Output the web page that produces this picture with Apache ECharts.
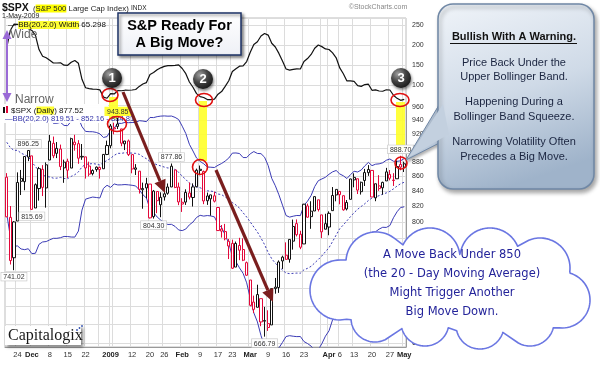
<!DOCTYPE html>
<html><head><meta charset="utf-8">
<script src="https://cdn.jsdelivr.net/npm/echarts@6/dist/echarts.min.js"></script>
<style>html,body{margin:0;padding:0;background:#fff;}#chart{width:600px;height:365px;}</style>
</head><body><div id="chart"></div>
<script>
// ---------------- DATA ----------------
const dates = [
'2008-11-19','2008-11-20','2008-11-21','2008-11-24','2008-11-25','2008-11-26','2008-11-28',
'2008-12-01','2008-12-02','2008-12-03','2008-12-04','2008-12-05','2008-12-08','2008-12-09','2008-12-10','2008-12-11','2008-12-12',
'2008-12-15','2008-12-16','2008-12-17','2008-12-18','2008-12-19','2008-12-22','2008-12-23','2008-12-24','2008-12-26','2008-12-29','2008-12-30','2008-12-31',
'2009-01-02','2009-01-05','2009-01-06','2009-01-07','2009-01-08','2009-01-09','2009-01-12','2009-01-13','2009-01-14','2009-01-15','2009-01-16',
'2009-01-20','2009-01-21','2009-01-22','2009-01-23','2009-01-26','2009-01-27','2009-01-28','2009-01-29','2009-01-30',
'2009-02-02','2009-02-03','2009-02-04','2009-02-05','2009-02-06','2009-02-09','2009-02-10','2009-02-11','2009-02-12','2009-02-13',
'2009-02-17','2009-02-18','2009-02-19','2009-02-20','2009-02-23','2009-02-24','2009-02-25','2009-02-26','2009-02-27',
'2009-03-02','2009-03-03','2009-03-04','2009-03-05','2009-03-06','2009-03-09','2009-03-10','2009-03-11','2009-03-12','2009-03-13',
'2009-03-16','2009-03-17','2009-03-18','2009-03-19','2009-03-20','2009-03-23','2009-03-24','2009-03-25','2009-03-26','2009-03-27','2009-03-30','2009-03-31',
'2009-04-01','2009-04-02','2009-04-03','2009-04-06','2009-04-07','2009-04-08','2009-04-09','2009-04-13','2009-04-14','2009-04-15','2009-04-16','2009-04-17',
'2009-04-20','2009-04-21','2009-04-22','2009-04-23','2009-04-24','2009-04-27','2009-04-28','2009-04-29','2009-04-30','2009-05-01'];

const opens = [859.03,805.87,755.84,801.20,853.40,852.90,886.89,
888.61,817.94,843.60,869.75,844.43,882.71,906.48,892.17,898.35,871.79,881.07,871.53,908.16,905.98,886.96,887.20,874.31,863.87,869.51,872.37,870.58,890.59,
902.99,929.17,931.17,927.45,905.73,909.91,890.40,869.79,867.28,841.99,844.45,849.64,806.77,839.74,822.16,832.50,837.30,845.73,868.89,845.69,
823.09,825.69,837.77,831.75,846.09,868.24,866.87,827.41,829.91,833.95,818.61,791.06,787.91,775.87,773.25,744.69,770.64,765.76,749.93,
729.57,704.44,698.60,708.27,684.04,680.76,679.28,719.59,720.89,751.97,758.84,753.88,776.01,797.92,784.58,772.59,820.60,806.81,814.06,828.68,809.07,790.88,
793.59,814.53,835.13,839.75,834.12,816.76,829.29,855.33,856.88,839.44,854.54,865.18,868.27,831.25,847.26,844.62,853.91,862.82,854.48,856.85,876.59,
872.74];
const highs = [864.57,820.52,801.20,865.60,868.94,887.68,896.25,
888.61,850.54,873.12,875.60,879.42,918.57,916.26,908.27,904.63,883.24,884.63,914.66,918.85,911.02,905.47,887.37,880.44,869.79,873.74,873.70,891.12,910.32,
934.73,936.63,943.85,927.45,910.00,911.93,890.40,877.02,867.28,851.59,858.13,849.64,841.72,839.74,838.61,852.53,850.45,877.86,868.89,851.66,
830.78,842.60,851.85,850.55,870.75,875.01,868.05,838.22,835.48,839.43,818.61,796.17,797.58,778.69,777.85,775.49,780.12,779.42,751.27,
729.57,711.67,724.12,708.27,699.09,695.27,719.60,731.92,752.63,758.29,774.53,778.12,803.04,803.24,788.91,823.37,823.65,826.78,832.98,828.68,809.07,810.48,
813.62,845.61,842.50,839.75,834.12,828.42,856.91,864.31,856.88,852.93,870.35,875.63,868.27,850.09,861.78,852.87,871.80,868.83,864.48,882.06,888.70,
880.48];
const lows = [806.18,747.78,741.02,801.20,834.99,841.37,881.21,
815.69,817.94,827.60,833.60,818.41,882.71,885.38,885.45,868.73,851.35,857.72,871.53,895.94,877.44,883.02,857.09,860.10,861.44,866.52,857.07,870.58,889.67,
899.35,919.53,927.28,902.37,896.81,888.31,864.32,862.02,836.93,817.04,830.66,804.47,804.30,811.29,806.07,827.69,835.40,845.73,844.15,821.67,
812.87,821.98,829.18,819.91,845.42,861.65,822.99,822.03,808.06,825.21,789.17,780.43,777.03,754.25,742.37,744.69,752.89,751.75,734.52,
699.70,692.30,698.60,677.93,666.79,672.88,679.28,713.85,714.76,742.46,753.37,749.93,765.64,781.82,766.20,772.59,805.48,791.37,814.06,813.43,779.81,790.88,
783.32,814.53,826.70,822.79,814.53,814.84,829.29,845.35,836.31,835.58,847.04,860.87,832.39,826.83,840.57,835.45,853.91,854.65,847.12,856.85,868.51,
866.10];
const closes = [806.58,752.44,800.03,851.81,857.39,887.68,896.24,
816.21,848.81,870.74,845.22,876.07,909.70,888.67,899.24,873.59,879.73,868.57,913.18,904.42,885.28,887.88,871.63,863.16,868.15,872.80,869.42,890.64,903.25,
931.80,927.45,934.70,906.65,909.73,890.35,870.26,871.79,842.62,843.74,850.12,805.22,840.24,827.50,831.95,836.57,845.71,874.09,845.14,825.88,
825.44,838.51,832.23,845.85,868.60,869.89,827.16,833.74,835.19,826.84,789.17,788.42,778.94,770.05,743.33,773.14,764.90,752.83,735.09,
700.82,696.33,712.87,682.55,683.38,676.53,719.60,721.36,750.74,756.55,753.89,778.12,794.35,784.04,768.54,822.92,806.12,813.88,832.86,815.94,787.53,797.87,
811.08,834.38,842.50,835.48,815.55,825.16,856.56,858.73,841.50,852.06,865.30,869.60,832.39,850.08,843.55,851.92,866.23,857.51,855.16,873.64,872.81,
877.52];
const priorClose = 859.12;

const bbUpper = [1005.8,1019.3,1023.0,1022.9,1018.1,1014.8,1007.9,
998.5,986.4,962.0,948.3,944.9,940.8,935.8,935.8,937.2,932.6,932.3,939.1,943.7,944.0,930.8,923.8,923.4,923.3,922.3,920.2,914.9,916.2,
925.1,928.7,935.9,935.5,937.2,936.7,936.9,937.0,939.7,939.1,938.2,944.5,944.3,945.7,946.5,946.8,946.4,946.6,944.6,941.4,
931.5,920.7,905.1,895.5,885.5,880.8,877.5,873.0,872.7,872.3,875.4,877.9,881.3,885.5,892.5,892.7,891.9,886.2,886.2,
891.5,894.7,892.0,891.7,886.7,875.1,857.4,847.4,835.3,821.7,808.2,806.2,807.4,808.3,808.1,821.4,826.9,834.4,846.3,854.2,856.6,858.9,
863.0,866.3,868.2,863.4,860.9,857.2,862.5,867.1,866.1,868.9,874.6,879.4,874.9,876.9,877.4,878.9,882.4,884.2,881.0,880.9,881.6,
884.81];
const bbMiddle = [908.0,900.2,896.4,896.5,892.3,890.2,887.3,
879.7,873.8,867.1,861.7,860.2,859.2,857.7,857.7,858.8,857.2,857.0,860.1,862.4,866.3,873.1,876.7,877.2,877.8,877.0,875.7,879.4,882.1,
885.2,889.3,892.2,892.1,893.1,892.7,892.5,892.1,890.8,887.3,884.6,880.6,878.2,876.0,874.5,872.9,871.6,871.8,869.5,865.7,
860.3,855.9,850.8,847.7,845.7,844.7,842.5,840.6,840.2,839.4,836.3,835.5,832.4,829.5,825.1,821.9,817.8,811.8,806.3,
800.0,793.6,787.3,779.8,771.7,762.1,754.6,749.3,745.1,741.2,737.6,737.0,737.3,737.6,737.5,741.5,743.2,745.6,749.6,753.7,758.0,763.1,
768.0,775.6,783.6,791.5,796.3,801.5,806.8,811.9,816.3,820.0,823.5,827.8,831.0,832.3,834.2,836.1,837.8,839.9,843.2,847.0,850.1,
852.16];
const bbLower = [810.2,781.1,769.8,770.1,766.4,765.6,766.7,
760.8,761.2,772.1,775.0,775.5,777.6,779.5,779.5,780.3,781.8,781.7,781.1,781.0,788.5,815.3,829.5,831.0,832.3,831.7,831.1,843.9,848.0,
845.2,849.8,848.5,848.6,849.0,848.6,848.0,847.1,841.9,835.5,831.0,816.7,812.1,806.3,802.4,799.0,796.8,797.0,794.4,789.9,
789.1,791.1,796.4,799.9,805.8,808.5,807.5,808.2,807.7,806.5,797.2,793.1,783.5,773.5,757.6,751.0,743.7,737.3,726.3,
708.5,692.4,682.6,667.9,656.6,649.0,651.7,651.1,654.9,660.7,666.9,667.8,667.2,666.8,666.9,661.6,659.5,656.8,652.9,653.1,659.4,667.3,
673.0,684.9,698.9,719.5,731.6,745.7,751.0,756.6,766.4,771.0,772.4,776.2,787.0,787.7,791.0,793.3,793.1,795.5,805.4,813.1,818.6,
819.51];
const bbWidth = [195.6,238.2,253.2,252.8,251.5,249.2,242.3,
237.7,225.3,189.8,173.3,169.3,163.2,156.3,156.3,156.9,150.8,150.5,158.1,162.6,155.4,115.6,94.3,92.4,91.0,90.6,89.1,71.1,68.1,
79.9,78.9,87.3,86.9,88.2,88.1,88.8,90.0,97.8,103.6,107.3,127.7,132.3,139.3,144.2,147.8,149.6,149.6,150.2,151.5,
142.5,129.6,108.7,95.7,79.7,72.3,70.0,64.8,64.9,65.8,78.2,84.8,97.8,112.0,134.9,141.8,148.2,149.0,159.8,
182.9,202.4,209.4,223.7,230.2,226.0,205.6,196.3,180.3,161.0,141.3,138.4,140.2,141.5,141.3,159.8,167.4,177.6,193.3,201.2,197.2,191.5,
190.0,181.4,169.3,143.9,129.4,111.5,111.4,110.5,99.7,97.9,102.3,103.2,88.0,89.2,86.3,85.6,89.3,88.7,75.6,67.9,62.9,
65.298];

const priceTicks = [660,680,700,720,740,760,780,800,820,840,860,880,900,920,940,960];
const widthTicks = [100,150,200,250];
const xTickLabels = {
 '2008-11-24':'24','2008-12-01':'Dec','2008-12-08':'8','2008-12-15':'15','2008-12-22':'22',
 '2009-01-02':'2009','2009-01-12':'12','2009-01-20':'20','2009-01-26':'26',
 '2009-02-02':'Feb','2009-02-09':'9','2009-02-17':'17','2009-02-23':'23',
 '2009-03-02':'Mar','2009-03-09':'9','2009-03-16':'16','2009-03-23':'23',
 '2009-04-01':'Apr','2009-04-06':'6','2009-04-13':'13','2009-04-20':'20','2009-04-27':'27','2009-05-01':'May'};
const boldLabels = ['Dec','2009','Feb','Mar','Apr','May'];
const extraGridDays = ['2008-12-29','2009-01-05','2009-03-30'];
const priceCallouts = [
 {date:'2008-11-21', value:741.02, side:'bottom'},
 {date:'2008-11-28', value:896.25, side:'top'},
 {date:'2008-12-01', value:815.69, side:'bottom'},
 {date:'2009-01-06', value:943.85, side:'top', hl:true},
 {date:'2009-01-21', value:804.30, side:'bottom'},
 {date:'2009-01-28', value:877.86, side:'top'},
 {date:'2009-03-06', value:666.79, side:'bottom'},
 {date:'2009-04-30', value:888.70, side:'top'}];

// ---------------- CHART ----------------
const RED = '#e3083a', BLUE = '#3b3bb5', GRID = '#dcdcdc', AX = '#333';
const chart = echarts.init(document.getElementById('chart'));
const candleData = dates.map((d, i) => {
  const prev = i === 0 ? priorClose : closes[i - 1];
  const col = closes[i] >= prev ? '#111' : RED;
  return {value: [opens[i], closes[i], lows[i], highs[i]],
          itemStyle: {color: '#fff', color0: col, borderColor: col, borderColor0: col}};
});
const gridDays = new Set(Object.keys(xTickLabels).concat(extraGridDays));
const last = dates.length - 1;
const f2 = v => v.toFixed(2);

function arrowEls(x1, y1, x2, y2, color, lw, hl, hw) {
  const dx = x2 - x1, dy = y2 - y1, L = Math.hypot(dx, dy), ux = dx / L, uy = dy / L;
  const bx = x2 - ux * hl, by = y2 - uy * hl;
  return [
    {type: 'line', z: 65, shape: {x1: x1, y1: y1, x2: bx, y2: by}, style: {stroke: color, lineWidth: lw}},
    {type: 'polygon', z: 65, shape: {points: [[x2, y2], [bx - uy * hw, by + ux * hw], [bx + uy * hw, by - ux * hw]]}, style: {fill: color}}
  ];
}
function numCircle(cx, cy, t) {
  return [
    {type: 'circle', z: 70, shape: {cx: cx, cy: cy, r: 10},
     style: {fill: {type: 'radial', x: 0.35, y: 0.3, r: 0.85, colorStops: [{offset: 0, color: '#a0a0a0'}, {offset: 0.45, color: '#444'}, {offset: 1, color: '#0c0c0c'}]},
             shadowBlur: 3, shadowColor: 'rgba(0,0,0,0.5)', shadowOffsetX: 1, shadowOffsetY: 2}},
    {type: 'text', z: 71, style: {text: t, x: cx, y: cy + 0.5, align: 'center', verticalAlign: 'middle', font: 'bold 13px "Liberation Sans", Arial', fill: '#fff'}}
  ];
}
function ring(cx, cy, rx, ry) {
  return {type: 'ellipse', z: 68, shape: {cx: cx, cy: cy, rx: rx, ry: ry}, style: {fill: null, stroke: '#e01010', lineWidth: 1.6}};
}
function ybar(x, y, w, h) {
  return {type: 'rect', z: 1, shape: {x: x, y: y, width: w, height: h}, style: {fill: 'rgba(255,255,40,0.9)'}};
}
const SANS = '"Liberation Sans", Arial, sans-serif';
const cloudFont = '11.5px "Comic Sans MS", "DejaVu Sans", sans-serif';
const bubbleFont = '11px ' + SANS;

// cloud outline: outer envelope (per angle from centre) of a ring of circles
const cloudBumps = [[340,290,30],[376,262,30],[430,258,30],[490,258,30],[540,268,30],[562,300,28],[530,322,24],[480,325,24],[425,322,24],[375,318,24]];
const cloudC = [452, 292];
function cloudPoints() {
  const BINS = 720, best = new Array(BINS).fill(null);
  cloudBumps.forEach(b => {
    for (let k = 0; k < 360; k++) {
      const a = k * Math.PI * 2 / 360;
      const x = b[0] + b[2] * Math.cos(a), y = b[1] + b[2] * Math.sin(a);
      const ang = Math.atan2(y - cloudC[1], x - cloudC[0]);
      const d = Math.hypot(x - cloudC[0], y - cloudC[1]);
      const bin = Math.floor((ang + Math.PI) / (2 * Math.PI) * BINS) % BINS;
      if (!best[bin] || best[bin].d < d) best[bin] = {d: d, p: [x, y]};
    }
  });
  return best.filter(Boolean).map(o => o.p);
}

const graphics = [].concat(
  [
  {type: 'text', z: 100, style: {text: '$SPX', x: 2, y: 8, verticalAlign: 'middle', font: 'bold 10.5px ' + SANS, fill: '#111'}},
  {type: 'text', z: 100, style: {text: '({h|S&P 500} Large Cap Index) {s|INDX}', x: 33, y: 8.5, verticalAlign: 'middle', font: '7.8px ' + SANS, fill: '#222',
     rich: {h: {backgroundColor: '#ffff00', font: '7.8px ' + SANS}, s: {font: '6.5px ' + SANS}}}},
  {type: 'text', z: 100, style: {text: '1-May-2009', x: 2, y: 16, verticalAlign: 'middle', font: '7px ' + SANS, fill: '#222'}},
  {type: 'text', z: 100, style: {text: '\u00a9StockCharts.com', x: 378, y: 7, align: 'center', verticalAlign: 'middle', font: '7px ' + SANS, fill: '#888'}},
  {type: 'text', z: 100, style: {text: '\u2014 {h|BB(20,2.0) Width} ' + bbWidth[last].toFixed(3), x: 8, y: 25, verticalAlign: 'middle', font: '8px ' + SANS, fill: '#111',
     rich: {h: {backgroundColor: '#ffff33', font: '8px ' + SANS}}}},
  {type: 'line', z: 60, shape: {x1: 7, y1: 37, x2: 7, y2: 95}, style: {stroke: '#9a6ad6', lineWidth: 2}},
  {type: 'polygon', z: 60, shape: {points: [[7, 30], [2.5, 39], [11.5, 39]]}, style: {fill: '#9a6ad6'}},
  {type: 'polygon', z: 60, shape: {points: [[7, 102], [2.5, 93], [11.5, 93]]}, style: {fill: '#9a6ad6'}},
  {type: 'text', z: 61, style: {text: 'Wide', x: 10, y: 35, verticalAlign: 'middle', font: '12px ' + SANS, fill: '#666'}},
  {type: 'text', z: 61, style: {text: 'Narrow', x: 15, y: 100, verticalAlign: 'middle', font: '12px ' + SANS, fill: '#666'}},
  {type: 'rect', z: 80, shape: {x: 118, y: 13, width: 123, height: 42},
   style: {fill: {type: 'linear', x: 0, y: 0, x2: 0, y2: 1, colorStops: [{offset: 0, color: '#ffffff'}, {offset: 1, color: '#eef0f6'}]},
           stroke: '#1c3266', lineWidth: 1.5, shadowBlur: 3, shadowColor: 'rgba(0,0,0,0.45)', shadowOffsetX: 2, shadowOffsetY: 2}},
  {type: 'text', z: 81, style: {text: 'S&P Ready For', x: 179.5, y: 26, align: 'center', verticalAlign: 'middle', font: 'bold 14.5px ' + SANS, fill: '#000'}},
  {type: 'text', z: 81, style: {text: 'A Big Move?', x: 179.5, y: 43, align: 'center', verticalAlign: 'middle', font: 'bold 14.5px ' + SANS, fill: '#000'}},
  ybar(109, 97, 9, 22), ybar(199, 101, 8, 60), ybar(396, 102, 9, 48),
  ring(110, 95, 8, 6.5), ring(204, 100, 8.5, 6.5), ring(400, 100, 9, 6.5),
  ring(117, 124, 9.5, 7.5), ring(200, 167, 7.5, 7.5), ring(401, 163, 6, 6),
  {type: 'rect', z: 4, shape: {x: 1, y: 104, width: 107, height: 19}, style: {fill: 'rgba(255,255,255,0.95)'}},
  {type: 'rect', z: 4, shape: {x: 3, y: 107, width: 2, height: 6}, style: {fill: '#111'}},
  {type: 'rect', z: 4, shape: {x: 6, y: 106, width: 2, height: 7}, style: {fill: RED}},
  {type: 'text', z: 4, style: {text: '$SPX ({h|Daily}) ' + f2(closes[last]), x: 11, y: 110.5, verticalAlign: 'middle', font: '8px ' + SANS, fill: '#111',
     rich: {h: {backgroundColor: '#ffff33', font: '8px ' + SANS}}}},
  {type: 'text', z: 4, style: {text: '\u2014BB(20,2.0) ' + f2(bbLower[last]) + ' - ' + f2(bbMiddle[last]) + ' - ' + f2(bbUpper[last]), x: 5, y: 118.5, verticalAlign: 'middle', font: '7.6px ' + SANS, fill: '#3030a8'}},
  {type: 'polygon', z: 84, shape: {points: [[442, 100], [406, 160], [449, 138]]},
   style: {fill: '#b9c8da', stroke: '#7088a6', lineWidth: 1, shadowBlur: 3, shadowColor: 'rgba(0,0,0,0.3)', shadowOffsetX: 1, shadowOffsetY: 2}},
  {type: 'rect', z: 85, shape: {x: 438, y: 4, width: 156, height: 185, r: 15},
   style: {fill: {type: 'linear', x: 0, y: 0, x2: 0.4, y2: 1, colorStops: [{offset: 0, color: '#f0f4f9'}, {offset: 0.55, color: '#cfdae7'}, {offset: 1, color: '#9fb3ca'}]},
           stroke: '#6f87a5', lineWidth: 1.5, shadowBlur: 4, shadowColor: 'rgba(0,0,0,0.35)', shadowOffsetX: 2, shadowOffsetY: 3}},
  {type: 'polygon', z: 86, shape: {points: [[443, 104], [408, 158], [449, 134]]}, style: {fill: '#c3d0df'}},
  {type: 'text', z: 87, style: {text: 'Bullish With A Warning.', x: 514, y: 37, align: 'center', verticalAlign: 'middle', font: 'bold 11px ' + SANS, fill: '#111'}},
  {type: 'line', z: 87, shape: {x1: 450, y1: 43.5, x2: 577, y2: 43.5}, style: {stroke: '#111', lineWidth: 1}},
  {type: 'text', z: 87, style: {text: 'Price Back Under the\nUpper Bollinger Band.', x: 514, y: 70, align: 'center', verticalAlign: 'middle', font: bubbleFont, lineHeight: 14.5, fill: '#1b2540'}},
  {type: 'text', z: 87, style: {text: 'Happening During a\nBollinger Band Squeeze.', x: 514, y: 109.5, align: 'center', verticalAlign: 'middle', font: bubbleFont, lineHeight: 14.5, fill: '#1b2540'}},
  {type: 'text', z: 87, style: {text: 'Narrowing Volatility Often\nPrecedes a Big Move.', x: 514, y: 149.5, align: 'center', verticalAlign: 'middle', font: bubbleFont, lineHeight: 14.5, fill: '#1b2540'}},
  {type: 'polygon', z: 88, shape: {points: cloudPoints()}, style: {fill: '#fff', stroke: '#6a76e2', lineWidth: 1.6, lineJoin: 'round'}},
  {type: 'text', z: 91, style: {text: 'A Move Back Under 850\n(the 20 - Day Moving Average)\nMight Trigger Another\nBig Move Down.', x: 452, y: 284, align: 'center', verticalAlign: 'middle', font: cloudFont, lineHeight: 19, fill: '#23239a'}},
  {type: 'rect', z: 92, shape: {x: 5, y: 326, width: 76, height: 19}, style: {fill: '#fff', shadowBlur: 3, shadowColor: 'rgba(0,0,0,0.5)', shadowOffsetX: 2, shadowOffsetY: 2}},
  {type: 'text', z: 93, style: {text: 'Capitalogix', x: 8, y: 336, verticalAlign: 'middle', font: '16px "Liberation Serif", "DejaVu Serif", serif', fill: '#1a1a1a'}},
  {type: 'circle', z: 93, shape: {cx: 77, cy: 330, r: 0.9}, style: {fill: '#3050b0'}},
  {type: 'circle', z: 93, shape: {cx: 79.5, cy: 328, r: 0.9}, style: {fill: '#3050b0'}},
  {type: 'circle', z: 93, shape: {cx: 82, cy: 326, r: 0.9}, style: {fill: '#3050b0'}}
  ],
  arrowEls(123, 92, 165, 193, '#7a1e1e', 3.2, 13, 6),
  arrowEls(216, 170, 273, 302, '#7a1e1e', 3.2, 13, 6),
  numCircle(112, 78, '1'), numCircle(203, 79, '2'), numCircle(401, 78, '3')
);

const option = {
  animation: false,
  backgroundColor: '#fff',
  grid: [
    {left: 5, width: 401, top: 18, height: 87.5, show: true, borderColor: '#bdbdbd', borderWidth: 1},
    {left: 5, width: 401, top: 105.5, height: 241.5, show: true, borderColor: '#bdbdbd', borderWidth: 1}
  ],
  xAxis: [
    {type: 'category', gridIndex: 0, data: dates, boundaryGap: true,
     axisLine: {show: false}, axisTick: {show: false}, axisLabel: {show: false},
     splitLine: {show: true, interval: (i, v) => gridDays.has(v), lineStyle: {color: GRID, width: 1}}},
    {type: 'category', gridIndex: 1, data: dates, boundaryGap: true,
     axisLine: {show: true, lineStyle: {color: '#999'}}, axisTick: {show: false},
     axisLabel: {interval: (i, v) => v in xTickLabels, margin: 4, fontSize: 7.5, color: AX, fontFamily: 'Liberation Sans, Arial',
       formatter: v => { const t = xTickLabels[v] || ''; return boldLabels.includes(t) ? '{b|' + t + '}' : t; },
       rich: {b: {fontWeight: 'bold', fontSize: 7.5, color: '#222', fontFamily: 'Liberation Sans, Arial'}}},
     splitLine: {show: true, interval: (i, v) => gridDays.has(v), lineStyle: {color: GRID, width: 1}}}
  ],
  yAxis: [
    {type: 'value', gridIndex: 0, position: 'right', min: 50, max: 268.75, interval: 50,
     axisLine: {show: false}, axisTick: {show: false},
     axisLabel: {showMinLabel: false, showMaxLabel: true, margin: 6, fontSize: 7, color: AX, fontFamily: 'Liberation Sans, Arial',
       formatter: v => widthTicks.includes(v) ? String(v) : ''},
     splitLine: {show: true, lineStyle: {color: GRID}}},
    {type: 'log', gridIndex: 1, position: 'right', min: 655.9, max: 962.6, logBase: 10,
     axisLine: {show: true, lineStyle: {color: '#999'}},
     axisTick: {show: false, customValues: priceTicks},
     axisLabel: {customValues: priceTicks, margin: 6, fontSize: 7, color: AX, fontFamily: 'Liberation Sans, Arial', formatter: v => String(Math.round(v))},
     splitLine: {show: true, lineStyle: {color: GRID}}}
  ],
  series: [
    {type: 'line', name: 'BB Width', xAxisIndex: 0, yAxisIndex: 0, data: bbWidth, symbol: 'none',
     lineStyle: {color: '#111', width: 1.2}, z: 3},
    {type: 'line', name: 'BB Upper', xAxisIndex: 1, yAxisIndex: 1, data: bbUpper, symbol: 'none', lineStyle: {color: BLUE, width: 1}, z: 2},
    {type: 'line', name: 'BB Middle', xAxisIndex: 1, yAxisIndex: 1, data: bbMiddle, symbol: 'none', lineStyle: {color: BLUE, width: 1, type: [2, 2]}, z: 2},
    {type: 'line', name: 'BB Lower', xAxisIndex: 1, yAxisIndex: 1, data: bbLower, symbol: 'none', lineStyle: {color: BLUE, width: 1}, z: 2},
    {type: 'candlestick', name: 'SPX', xAxisIndex: 1, yAxisIndex: 1, data: candleData, barWidth: 2.6, z: 5,
     markPoint: {symbol: 'circle', symbolSize: 1, itemStyle: {color: 'rgba(0,0,0,0)'}, z: 6,
       data: priceCallouts.map(c => ({coord: [c.date, c.value], value: c.value,
         label: {show: true, position: c.side, distance: 2, formatter: p => f2(p.value),
                 fontSize: 7, fontFamily: 'Liberation Sans, Arial', color: '#333',
                 backgroundColor: c.hl ? '#ffff33' : 'rgba(255,255,255,0.92)', borderColor: c.hl ? '#ffff33' : '#c4c4c4', borderWidth: 0.6,
                 padding: [1, 2, 0, 2]}}))}}
  ],
  graphic: graphics
};
chart.setOption(option);
</script>
</body></html>
